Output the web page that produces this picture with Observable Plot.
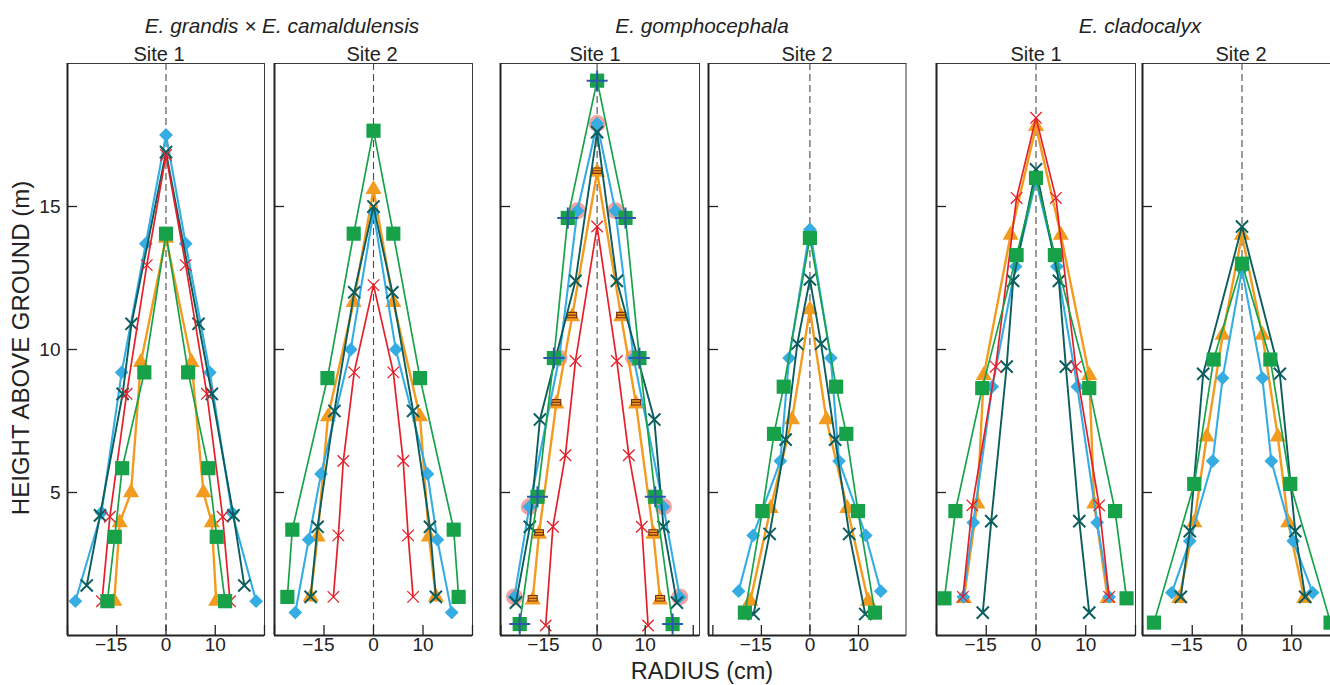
<!DOCTYPE html>
<html><head><meta charset="utf-8">
<script src="https://cdn.jsdelivr.net/npm/d3@7"></script>
<script src="https://cdn.jsdelivr.net/npm/@observablehq/plot@0.6"></script>
<style>
html,body{margin:0;padding:0;background:#fff;overflow:hidden}
#fig{position:relative;width:1330px;height:685px;overflow:hidden;font-family:"Liberation Sans",Arial,sans-serif;color:#222}
#fig svg{position:absolute}
</style></head><body><div id="fig"></div>
<script>
// ---------- DATA (radius cm, height m), path: bottom-left -> apex -> bottom-right ----------
// Panel 1: E. grandis × E. camaldulensis, Site 1
const P1_BLUE_R   = [-18.4,-13.1,-9.0,-4.1,0,4.0,8.9,13.4,18.3];
const P1_BLUE_H   = [1.2,4.3,9.2,13.7,17.5,13.7,9.2,4.3,1.2];
const P1_TEAL_R   = [-16.1,-13.4,-8.8,-7.0,0,6.6,9.3,13.7,15.9];
const P1_TEAL_H   = [1.75,4.2,8.45,10.9,16.9,10.9,8.45,4.2,1.75];
const P1_RED_R    = [-13.0,-11.4,-8.0,-3.9,0,4.0,8.3,11.5,13.0];
const P1_RED_H    = [1.2,4.15,8.45,12.95,16.8,12.95,8.45,4.15,1.2];
const P1_ORANGE_R = [-10.5,-9.4,-7.1,-5.1,0,5.2,7.6,9.3,10.2];
const P1_ORANGE_H = [1.2,3.95,5.0,9.55,13.9,9.55,5.0,3.95,1.2];
const P1_GREEN_R  = [-11.9,-10.4,-8.9,-4.4,0,4.5,8.6,10.3,12.0];
const P1_GREEN_H  = [1.2,3.45,5.85,9.2,14.05,9.2,5.85,3.45,1.2];
// Panel 2: E. grandis × E. camaldulensis, Site 2
const P2_GREEN_R  = [-17.4,-16.4,-9.3,-4.0,0,4.0,9.4,16.2,17.2];
const P2_GREEN_H  = [1.35,3.7,9.0,14.05,17.65,14.05,9.0,3.7,1.35];
const P2_ORANGE_R = [-12.7,-11.3,-9.2,-4.0,0,4.0,9.4,11.2,12.6];
const P2_ORANGE_H = [1.35,3.45,7.65,11.65,15.6,11.65,7.65,3.45,1.35];
const P2_TEAL_R   = [-12.7,-11.3,-7.9,-3.9,0,3.8,8.0,11.4,12.6];
const P2_TEAL_H   = [1.35,3.8,7.85,12.0,15.0,12.0,7.85,3.8,1.35];
const P2_BLUE_R   = [-15.8,-13.1,-10.6,-4.6,0,4.5,10.9,12.9,15.8];
const P2_BLUE_H   = [0.8,3.35,5.65,10.0,14.8,10.0,5.65,3.35,0.8];
const P2_RED_R    = [-8.1,-7.1,-6.1,-3.9,0,4.0,6.0,7.0,8.0];
const P2_RED_H    = [1.35,3.5,6.1,9.2,12.25,9.2,6.1,3.5,1.35];
// Panel 3: E. gomphocephala, Site 1
const P3_GREEN_R  = [-16.1,-12.4,-9.0,-6.1,0,5.9,8.8,12.1,15.7];
const P3_GREEN_H  = [0.4,4.85,9.7,14.6,19.4,14.6,9.7,4.85,0.4];
const P3_BLUE_R   = [-17.2,-14.1,-7.9,-4.1,0,3.8,7.6,13.8,17.2];
const P3_BLUE_H   = [1.35,4.5,9.7,14.85,17.9,14.85,9.7,4.5,1.35];
const P3_TEAL_R   = [-16.9,-14.0,-11.9,-4.5,0,4.1,11.9,13.8,16.6];
const P3_TEAL_H   = [1.15,3.8,7.55,12.4,17.6,12.4,7.55,3.8,1.15];
const P3_ORANGE_R = [-13.4,-12.1,-8.5,-5.2,0,5.0,8.1,11.7,13.1];
const P3_ORANGE_H = [1.25,3.55,8.1,11.15,16.2,11.15,8.1,3.55,1.25];
const P3_RED_R    = [-10.7,-9.2,-6.6,-4.5,0,4.1,6.6,9.3,10.6];
const P3_RED_H    = [0.35,3.8,6.3,9.6,14.3,9.6,6.3,3.8,0.35];
// Panel 4: E. gomphocephala, Site 2
const P4_BLUE_R   = [-14.7,-11.7,-6.1,-4.3,0,4.3,6.0,11.5,14.6];
const P4_BLUE_H   = [1.55,3.5,6.1,9.7,14.2,9.7,6.1,3.5,1.55];
const P4_GREEN_R  = [-13.4,-9.8,-7.4,-5.4,0,5.4,7.5,9.9,13.4];
const P4_GREEN_H  = [0.8,4.35,7.05,8.7,13.9,8.7,7.05,4.35,0.8];
const P4_ORANGE_R = [-12.3,-8.1,-3.7,0,3.4,7.7,12.0];
const P4_ORANGE_H = [1.2,4.45,7.55,11.4,7.55,4.45,1.2];
const P4_TEAL_R   = [-11.6,-8.3,-5.0,-2.6,0,2.3,5.2,8.1,11.4];
const P4_TEAL_H   = [0.75,3.55,6.85,10.2,12.45,10.2,6.85,3.55,0.75];
// Panel 5: E. cladocalyx, Site 1
const P5_GREEN_R  = [-18.4,-16.2,-10.8,-3.9,0,3.8,10.7,15.9,18.2];
const P5_GREEN_H  = [1.3,4.35,8.65,13.3,16.0,13.3,8.65,4.35,1.3];
const P5_ORANGE_R = [-14.5,-11.8,-10.5,-5.1,0,5.0,10.7,11.7,14.4];
const P5_ORANGE_H = [1.3,4.6,9.1,14.0,17.8,14.0,9.1,4.6,1.3];
const P5_BLUE_R   = [-14.6,-12.6,-8.8,-4.1,0,4.2,8.3,12.3,14.7];
const P5_BLUE_H   = [1.35,3.95,8.7,12.9,15.9,12.9,8.7,3.95,1.35];
const P5_TEAL_R   = [-10.7,-9.0,-5.9,-4.6,0,4.6,6.0,8.7,10.7];
const P5_TEAL_H   = [0.8,4.0,9.4,12.4,16.3,12.4,9.4,4.0,0.8];
const P5_RED_R    = [-14.7,-12.8,-8.1,-3.9,0,4.0,8.0,12.7,14.7];
const P5_RED_H    = [1.35,4.55,9.4,15.3,18.1,15.3,9.4,4.55,1.35];
// Panel 6: E. cladocalyx, Site 2
const P6_GREEN_R  = [-17.7,-9.6,-5.7,0,5.7,9.7,17.8];
const P6_GREEN_H  = [0.45,5.3,9.65,13.0,9.65,5.3,0.45];
const P6_TEAL_R   = [-12.3,-10.5,-7.8,0,7.6,10.7,12.7];
const P6_TEAL_H   = [1.35,3.65,9.15,14.3,9.15,3.65,1.35];
const P6_ORANGE_R = [-12.6,-9.6,-7.1,-3.9,0,4.1,7.2,9.3,12.5];
const P6_ORANGE_H = [1.3,3.95,6.95,10.5,14.0,10.5,6.95,3.95,1.3];
const P6_BLUE_R   = [-14.1,-10.5,-5.9,-3.9,0,4.1,5.9,10.3,14.2];
const P6_BLUE_H   = [1.5,3.3,6.1,9.0,12.8,9.0,6.1,3.3,1.5];

// Tick values and labels
const X_TICKS = [-20,-10,0,10,20];
const X_TICK_LABEL_VALUES = [-10,0,10];
const X_TICK_LABELS = ["−15","0","10"];
const Y_TICKS = [5,10,15];
const Y_TICK_LABELS = ["5","10","15"];

// Text
const SPECIES = ["E. grandis × E. camaldulensis","E. gomphocephala","E. cladocalyx"];
const SITES = ["Site 1","Site 2","Site 1","Site 2","Site 1","Site 2"];
const Y_LABEL = "HEIGHT ABOVE GROUND (m)";
const X_LABEL = "RADIUS (cm)";

// ---------- LAYOUT / STYLE ----------
const FRAME_TOP = 63, FRAME_H = 572;
const PANEL_LEFT  = [66.5, 274, 500, 707.5, 936, 1142];
const PANEL_WIDTH = [197, 198, 199, 197.5, 199, 199];
const PANEL_XDOM  = [[-20,20],[-20,20],[-20.1,21.3],[-20.9,19.8],[-20,20],[-20,20]];

const barSymbol = {draw(ctx){ const w=4.5,h=2.7; ctx.moveTo(-w,-h); ctx.lineTo(w,-h); ctx.lineTo(w,h); ctx.lineTo(-w,h); ctx.closePath(); ctx.moveTo(-w,0); ctx.lineTo(w,0);} };

const STYLE = {
  pink:   {symbol:"circle",   r:8.5, fill:"#f4a3a3", stroke:"none", line:false},
  orange: {symbol:"triangle", r:6.0, fill:"#f29b1f", stroke:"none", color:"#f29b1f", lw:2.4},
  blue:   {symbol:"diamond2", r:6.2, fill:"#35ade2", stroke:"none", color:"#35ade2", lw:2.1},
  teal:   {symbol:"times",    r:5.6, fill:"none", stroke:"#0b5d5e", sw:2.0, color:"#0b5d5e", lw:1.9},
  red:    {symbol:"times",    r:5.3, fill:"none", stroke:"#e3202a", sw:1.3, color:"#e3202a", lw:1.7},
  green:  {symbol:"square",   r:8.0, fill:"#17a24a", stroke:"none", color:"#17a24a", lw:1.7},
  plus:   {symbol:"plus",     r:6.8, fill:"none", stroke:"#2b58a8", sw:2.0, line:false},
  bar:    {symbol:barSymbol,  r:4,   fill:"#f29b1f", stroke:"#7a2e12", sw:1.1, line:false, dy:-1.5}
};

const S = (key, r, h) => ({key, r, h});
const PANELS = [
  [S("orange",P1_ORANGE_R,P1_ORANGE_H),S("blue",P1_BLUE_R,P1_BLUE_H),S("teal",P1_TEAL_R,P1_TEAL_H),S("red",P1_RED_R,P1_RED_H),S("green",P1_GREEN_R,P1_GREEN_H)],
  [S("orange",P2_ORANGE_R,P2_ORANGE_H),S("blue",P2_BLUE_R,P2_BLUE_H),S("teal",P2_TEAL_R,P2_TEAL_H),S("red",P2_RED_R,P2_RED_H),S("green",P2_GREEN_R,P2_GREEN_H)],
  [S("pink",P3_BLUE_R,P3_BLUE_H),S("orange",P3_ORANGE_R,P3_ORANGE_H),S("bar",P3_ORANGE_R,P3_ORANGE_H),S("blue",P3_BLUE_R,P3_BLUE_H),S("teal",P3_TEAL_R,P3_TEAL_H),S("red",P3_RED_R,P3_RED_H),S("green",P3_GREEN_R,P3_GREEN_H),S("plus",P3_GREEN_R,P3_GREEN_H)],
  [S("orange",P4_ORANGE_R,P4_ORANGE_H),S("blue",P4_BLUE_R,P4_BLUE_H),S("teal",P4_TEAL_R,P4_TEAL_H),S("green",P4_GREEN_R,P4_GREEN_H)],
  [S("orange",P5_ORANGE_R,P5_ORANGE_H),S("blue",P5_BLUE_R,P5_BLUE_H),S("teal",P5_TEAL_R,P5_TEAL_H),S("red",P5_RED_R,P5_RED_H),S("green",P5_GREEN_R,P5_GREEN_H)],
  [S("orange",P6_ORANGE_R,P6_ORANGE_H),S("blue",P6_BLUE_R,P6_BLUE_H),S("teal",P6_TEAL_R,P6_TEAL_H),S("green",P6_GREEN_R,P6_GREEN_H)]
];

const fig = document.getElementById("fig");
const FONT = '"Liberation Sans", Arial, sans-serif';

PANELS.forEach((series, i) => {
  const mL = i === 0 ? 50 : 3, mR = 3, mT = 3, mB = 34;
  const W = PANEL_WIDTH[i], H = FRAME_H;
  const [x0, x1] = PANEL_XDOM[i];
  const marks = [];
  marks.push(Plot.ruleX([0], {stroke:"#4a4a4a", strokeWidth:1.1, strokeDasharray:"7,4"}));
  for (const s of series) {
    const st = STYLE[s.key];
    const pts = s.r.map((r, k) => ({r, h: s.h[k]}));
    if (st.line !== false) marks.push(Plot.line(pts, {x:"r", y:"h", stroke:st.color, strokeWidth:st.lw}));
    marks.push(Plot.dot(pts, {x:"r", y:"h", symbol:st.symbol, r:st.r, fill:st.fill, stroke:st.stroke, strokeWidth:st.sw || 1, dy: st.dy || 0}));
  }
  marks.push(Plot.frame({stroke:"#3a3a3a", strokeWidth:1}));
  marks.push(Plot.ruleX([x0], {stroke:"#222", strokeWidth:2}));
  marks.push(Plot.ruleY([0], {stroke:"#222", strokeWidth:2}));
  marks.push(Plot.tickX(X_TICKS.filter(v => v >= x0 && v <= x1), {x:d=>d, stroke:"#222", strokeWidth:1.3, insetTop:H-10}));
  marks.push(Plot.tickY(Y_TICKS, {y:d=>d, stroke:"#222", strokeWidth:1.3, insetRight:W-10}));
  const xl = X_TICK_LABEL_VALUES.map((v, k) => ({v, t: X_TICK_LABELS[k]}));
  marks.push(Plot.text(xl.filter(d => d.t.startsWith("−")), {x:"v", text:"t", frameAnchor:"bottom", dy:15, dx:10.5, textAnchor:"end", fontSize:19, fill:"#222"}));
  marks.push(Plot.text(xl.filter(d => !d.t.startsWith("−")), {x:"v", text:"t", frameAnchor:"bottom", dy:15, textAnchor:"middle", fontSize:19, fill:"#222"}));
  if (i === 0) {
    const yl = Y_TICKS.map((v, k) => ({v, t: Y_TICK_LABELS[k]}));
    marks.push(Plot.text(yl, {y:"v", text:"t", frameAnchor:"left", dx:-7, textAnchor:"end", fontSize:19, fill:"#222"}));
  }
  const svg = Plot.plot({
    width: W + mL + mR, height: H + mT + mB,
    marginLeft: mL, marginRight: mR, marginTop: mT, marginBottom: mB,
    x: {domain: [x0, x1], axis: null},
    y: {domain: [0, 20], axis: null},
    style: {fontFamily: FONT, overflow: "visible", background: "transparent"},
    marks
  });
  svg.style.left = (PANEL_LEFT[i] - mL) + "px";
  svg.style.top = (FRAME_TOP - mT) + "px";
  fig.appendChild(svg);
});

// ---------- TEXT OVERLAY ----------
const ov = d3.select(fig).append("svg").attr("width",1330).attr("height",685)
  .style("left","0px").style("top","0px").style("pointer-events","none")
  .style("font-family", FONT).style("fill","#222");
const SPECIES_X = [282, 702, 1140];
SPECIES.forEach((t, k) => ov.append("text").attr("x", SPECIES_X[k]).attr("y", 33)
  .attr("text-anchor","middle").attr("font-size",20.8).attr("font-style","italic").text(t));
const SITE_X = [159, 372, 595, 807, 1036, 1241];
SITES.forEach((t, k) => ov.append("text").attr("x", SITE_X[k]).attr("y", 61)
  .attr("text-anchor","middle").attr("font-size",20).text(t));
ov.append("text").attr("transform","translate(28.5,348) rotate(-90)")
  .attr("text-anchor","middle").attr("font-size",24).text(Y_LABEL);
ov.append("text").attr("x",702).attr("y",679).attr("text-anchor","middle").attr("font-size",23.5).text(X_LABEL);
</script></body></html>
